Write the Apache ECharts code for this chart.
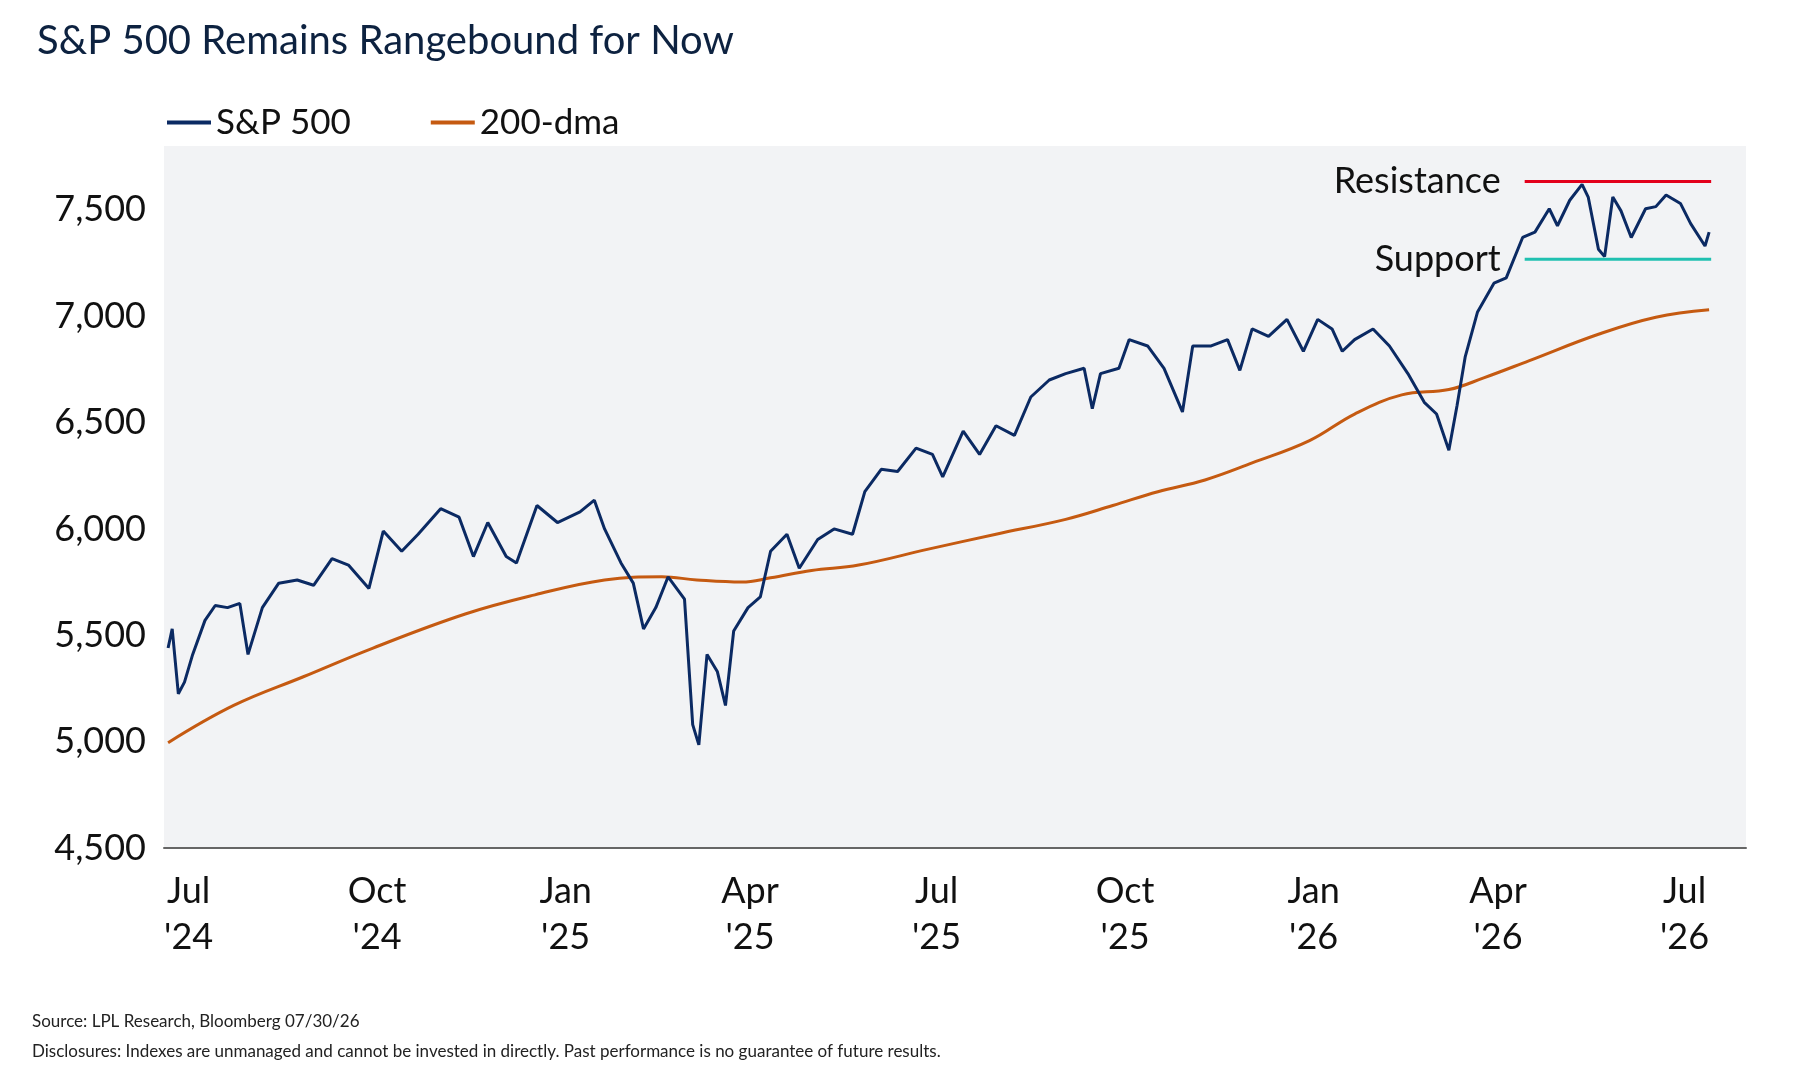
<!DOCTYPE html>
<html><head><meta charset="utf-8">
<script src="https://cdn.jsdelivr.net/npm/echarts@6/dist/echarts.min.js"></script>
<style>html,body{margin:0;padding:0;background:#fff}#c{width:1816px;height:1072px}</style>
</head><body><div id="c"></div>
<script>
const spxDates = ['2024-06-21','2024-06-23','2024-06-26','2024-06-29','2024-07-03','2024-07-09','2024-07-14','2024-07-20','2024-07-26','2024-07-30','2024-08-06','2024-08-14','2024-08-23','2024-08-31','2024-09-09','2024-09-17','2024-09-27','2024-10-04','2024-10-13','2024-10-21','2024-11-01','2024-11-10','2024-11-17','2024-11-24','2024-12-03','2024-12-08','2024-12-18','2024-12-28','2025-01-08','2025-01-15','2025-01-20','2025-01-28','2025-02-03','2025-02-08','2025-02-14','2025-02-20','2025-02-28','2025-03-04','2025-03-07','2025-03-11','2025-03-16','2025-03-20','2025-03-24','2025-03-31','2025-04-06','2025-04-11','2025-04-19','2025-04-25','2025-05-04','2025-05-12','2025-05-21','2025-05-27','2025-06-04','2025-06-12','2025-06-21','2025-06-29','2025-07-04','2025-07-14','2025-07-22','2025-07-30','2025-08-08','2025-08-16','2025-08-25','2025-09-02','2025-09-11','2025-09-15','2025-09-19','2025-09-28','2025-10-03','2025-10-12','2025-10-20','2025-10-29','2025-11-03','2025-11-12','2025-11-20','2025-11-26','2025-12-02','2025-12-10','2025-12-19','2025-12-27','2026-01-03','2026-01-10','2026-01-15','2026-01-21','2026-01-30','2026-02-07','2026-02-16','2026-02-24','2026-03-02','2026-03-08','2026-03-12','2026-03-16','2026-03-22','2026-03-30','2026-04-05','2026-04-13','2026-04-19','2026-04-26','2026-04-30','2026-05-06','2026-05-12','2026-05-15','2026-05-20','2026-05-23','2026-05-27','2026-05-31','2026-06-05','2026-06-12','2026-06-17','2026-06-22','2026-06-29','2026-07-04','2026-07-11','2026-07-13'];
const spxValues = [5440,5530,5225,5280,5410,5570,5640,5630,5650,5410,5630,5745,5760,5735,5860,5830,5720,5990,5895,5975,6095,6055,5870,6030,5870,5840,6110,6030,6080,6135,6000,5840,5745,5530,5630,5775,5670,5080,4985,5410,5330,5170,5520,5630,5680,5895,5975,5815,5950,6000,5975,6175,6280,6270,6380,6350,6245,6460,6350,6485,6440,6620,6700,6730,6755,6565,6730,6755,6890,6860,6755,6550,6860,6860,6890,6745,6940,6905,6985,6835,6985,6940,6835,6890,6940,6860,6730,6595,6540,6370,6580,6810,7020,7155,7180,7370,7395,7505,7425,7545,7620,7560,7315,7280,7560,7495,7370,7505,7515,7570,7530,7435,7330,7395];
const dmaDates = ['2024-06-21','2024-07-23','2024-08-26','2024-09-29','2024-11-13','2024-12-17','2025-01-20','2025-02-17','2025-03-06','2025-03-28','2025-04-11','2025-05-01','2025-05-24','2025-06-27','2025-07-30','2025-09-02','2025-09-25','2025-10-17','2025-11-09','2025-12-02','2025-12-30','2026-01-21','2026-02-13','2026-03-08','2026-03-25','2026-04-16','2026-05-20','2026-06-17','2026-07-13'];
const dmaValues = [4995,5170,5305,5440,5600,5690,5760,5775,5760,5750,5770,5805,5830,5905,5975,6045,6110,6175,6230,6310,6415,6540,6630,6655,6710,6790,6915,6995,7030];
const levelDates = ['2026-04-14','2026-07-14'];
const resistance = 7633, support = 7268;
const monthNames = ['Jan','Feb','Mar','Apr','May','Jun','Jul','Aug','Sep','Oct','Nov','Dec'];

const FONT = 'Lato';
const chart = echarts.init(document.getElementById('c'));
const lvl = (name, v, color) => ({
  name, type: 'line', data: levelDates.map(d => [d, v]), symbol: 'none',
  lineStyle: {color, width: 3}, silent: true,
  markPoint: {symbol: 'circle', symbolSize: 0, data: [{coord: [levelDates[0], v]}],
    label: {show: true, position: 'left', distance: 24, formatter: name, color: '#111', fontSize: 36, fontFamily: FONT}}
});
chart.setOption({
  animation: false,
  textStyle: {fontFamily: FONT},
  title: {text: 'S&P 500 Remains Rangebound for Now', left: 32, top: 16,
    textStyle: {fontSize: 40, fontWeight: 'normal', color: '#0d2240', fontFamily: FONT}},
  legend: {left: 162, top: 100, itemWidth: 44, itemHeight: 4, itemGap: 80,
    data: [{name:'S&P 500', icon:'rect'}, {name:'200-dma', icon:'rect'}],
    textStyle: {fontSize: 35, color: '#111', fontFamily: FONT}},
  grid: {left: 164, right: 70, top: 146, bottom: 224, show: true, backgroundColor: '#f2f3f5', borderWidth: 0},
  xAxis: {type: 'time', min: '2024-06-19', max: '2026-07-31',
    minInterval: 28*86400000, maxInterval: 31*86400000,
    axisLine: {show: true, lineStyle: {color: '#666', width: 2}}, axisTick: {show: false}, splitLine: {show: false},
    axisLabel: {fontSize: 36, color: '#111', lineHeight: 46, margin: 20, hideOverlap: false,
      formatter: v => { const d = new Date(v); const m = d.getMonth();
        return (m % 3 === 0) ? monthNames[m] + "\n'" + String(d.getFullYear()).slice(2) : ''; }}},
  yAxis: {type: 'value', min: 4500, max: 7800, interval: 500,
    axisLine: {show: false}, axisTick: {show: false}, splitLine: {show: false},
    axisLabel: {fontSize: 36, color: '#111', margin: 18, showMaxLabel: false,
      formatter: v => v % 500 === 0 ? v.toLocaleString('en-US') : ''}},
  series: [
    {name: '200-dma', type: 'line', data: dmaDates.map((d,i)=>[d, dmaValues[i]]), symbol: 'none', smooth: 0.4,
      lineStyle: {color: '#c55a11', width: 3}, itemStyle: {color: '#c55a11'}},
    {name: 'S&P 500', type: 'line', data: spxDates.map((d,i)=>[d, spxValues[i]]), symbol: 'none',
      lineStyle: {color: '#0b2a63', width: 3}, itemStyle: {color: '#0b2a63'}},
    lvl('Resistance', resistance, '#e3001b'),
    lvl('Support', support, '#20c0b0')
  ],
  graphic: [
    {type: 'text', left: 32, top: 1013, style: {text: 'Source: LPL Research, Bloomberg 07/30/26', fontSize: 17, fill: '#222', fontFamily: FONT}},
    {type: 'text', left: 32, top: 1043, style: {text: 'Disclosures: Indexes are unmanaged and cannot be invested in directly. Past performance is no guarantee of future results.', fontSize: 17, fill: '#222', fontFamily: FONT}}
  ]
});
</script></body></html>
